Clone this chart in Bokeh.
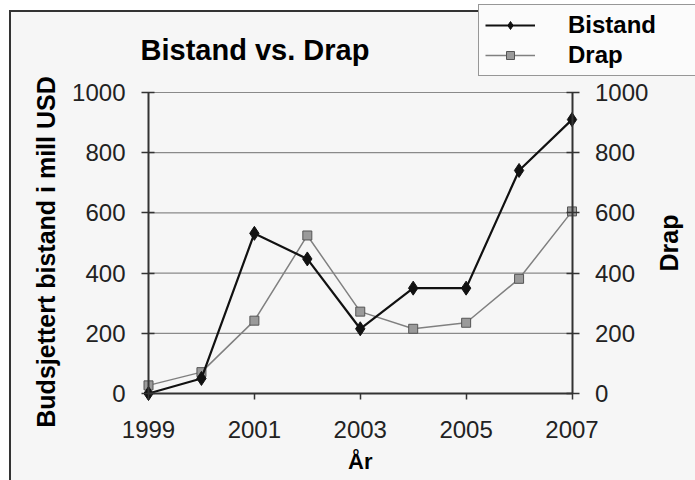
import math
from bokeh.plotting import figure
from bokeh.models import LinearAxis, Range1d, FixedTicker, Legend, LegendItem, Label
from bokeh.core.properties import value
from bokeh.embed import file_html
from bokeh.resources import INLINE

years = [1999, 2000, 2001, 2002, 2003, 2004, 2005, 2006, 2007]
bistand = [0, 50, 532, 447, 215, 350, 350, 741, 910]
drap = [27, 71, 242, 525, 272, 215, 235, 381, 605]
x_ticks = [1999, 2001, 2003, 2005, 2007]
y_ticks = [0, 200, 400, 600, 800, 1000]
title_text = "Bistand vs. Drap"
left_label = "Budsjettert bistand i mill USD"
right_label = "Drap"
x_label = "År"

SANS = "'Liberation Sans', Arial, sans-serif"
BG = "#f6f6f6"
INK = "#222"
W, H = 695, 480

# pixel geometry of the reference: x 1999..2007 -> 148..571.5 px, y 0..1000 -> 393..92 px.
# The frame covers the whole canvas; axes are pinned at their data locations.
X0_PX, X1_PX, Y0_PX, Y1_PX = 148, 571.5, 393, 92
px_year = (X1_PX - X0_PX) / (x_ticks[-1] - x_ticks[0])
px_unit = (Y0_PX - Y1_PX) / (y_ticks[-1] - y_ticks[0])
x_range = Range1d(x_ticks[0] - X0_PX / px_year, x_ticks[-1] + (W - X1_PX) / px_year)
y_range = Range1d(-(H - Y0_PX) / px_unit, Y0_PX / px_unit)

p = figure(width=W, height=H, output_backend="svg", toolbar_location=None,
           x_range=x_range, y_range=y_range, min_border=0,
           y_axis_location=None, x_axis_location=None)
p.styles = {"background": "linear-gradient(#333,#333) 9px 10px / 2px 100% no-repeat, "
                          "linear-gradient(#333,#333) 9px 10px / 100% 2px no-repeat, "
                          f"linear-gradient({BG},{BG}) 9px 10px / 100% 100% no-repeat, white"}
p.background_fill_color = None
p.border_fill_color = None
p.outline_line_color = None
p.grid.visible = False

def style_axis(ax):
    ax.axis_line_color = "#333"
    ax.axis_line_width = 2
    ax.major_tick_line_color = "#333"
    ax.major_tick_line_width = 1.5
    ax.minor_tick_line_color = None
    ax.major_label_text_font = SANS
    ax.major_label_text_font_size = "24px"
    ax.major_label_text_color = INK

yl = LinearAxis(ticker=FixedTicker(ticks=y_ticks), bounds=(y_ticks[0], y_ticks[-1]),
                fixed_location=x_ticks[0])
style_axis(yl)
yl.major_tick_out = 7
yl.major_tick_in = 6
yl.major_label_standoff = 16
p.add_layout(yl, "left")

yr = LinearAxis(ticker=FixedTicker(ticks=y_ticks), bounds=(y_ticks[0], y_ticks[-1]),
                fixed_location=x_ticks[-1])
style_axis(yr)
yr.major_tick_out = 7
yr.major_tick_in = 6
yr.major_label_standoff = 16
p.add_layout(yr, "right")

xb = LinearAxis(ticker=FixedTicker(ticks=x_ticks), bounds=(x_ticks[0], x_ticks[-1]),
                fixed_location=y_ticks[0])
style_axis(xb)
xb.major_tick_out = 6
xb.major_tick_in = 0
xb.major_label_standoff = 21
p.add_layout(xb, "below")

# horizontal grid between the two value axes
grid_y = y_ticks[1:]
p.segment(x0=[x_ticks[0]] * len(grid_y), y0=grid_y, x1=[x_ticks[-1]] * len(grid_y), y1=grid_y,
          line_color="#8a8a8a", line_width=1.2)

# axis titles
y_mid = (y_ticks[0] + y_ticks[-1]) / 2
p.text(x=[x_ticks[0]], y=[y_mid], text=[left_label], angle=math.pi / 2,
       x_offset=-103, y_offset=9, text_align="center", text_baseline="middle",
       text_font=value(SANS), text_font_style="bold", text_font_size="25px", text_color="#000")
p.text(x=[x_ticks[-1]], y=[y_mid], text=[right_label], angle=math.pi / 2,
       x_offset=97, text_align="center", text_baseline="middle",
       text_font=value(SANS), text_font_style="bold", text_font_size="25px", text_color="#000")
p.text(x=[(x_ticks[0] + x_ticks[-1]) / 2], y=[y_ticks[0]], text=[x_label],
       y_offset=68, text_align="center", text_baseline="alphabetic",
       text_font=value(SANS), text_font_style="bold", text_font_size="22px", text_color="#000")

dl = p.line(years, drap, line_color="#808080", line_width=1.5)
ds = p.scatter(years, drap, marker="square", size=9, fill_color="#9a9a9a", line_color="#555")
bl = p.line(years, bistand, line_color="#111", line_width=2.2)
bs = p.scatter(years, bistand, marker="diamond", size=14, fill_color="#111", line_color="#111")

legend = Legend(items=[LegendItem(label="Bistand", renderers=[bl, bs]),
                       LegendItem(label="Drap", renderers=[dl, ds])],
                location=(478, H - 76))
legend.label_text_font = SANS
legend.label_text_font_style = "bold"
legend.label_text_font_size = "24px"
legend.label_text_color = "#000"
legend.glyph_width = 50
legend.label_standoff = 33
legend.label_width = 130
legend.padding = 6
legend.spacing = 2
legend.margin = 0
legend.border_line_color = "#333"
legend.border_line_width = 1.5
legend.background_fill_color = "#fbfbfb"
legend.background_fill_alpha = 1
p.add_layout(legend)

title = Label(x=140, y=H - 49, x_units="screen", y_units="screen", text=title_text,
              text_font=SANS, text_font_style="bold", text_font_size="29px",
              text_color="#000", text_baseline="alphabetic")
p.add_layout(title)

open("out.html", "w").write(file_html(p, INLINE))
